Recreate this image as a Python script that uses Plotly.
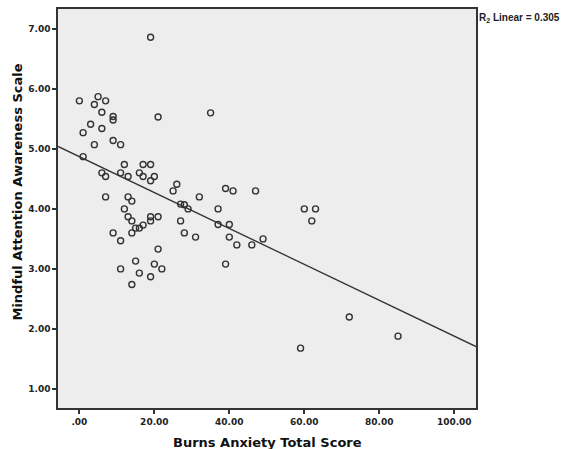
import plotly.graph_objects as go
import numpy as np

# Data
anxiety = [0, 5, 4, 7, 6, 9, 9, 21, 3, 1, 6, 9, 11, 4, 1,
           12, 17, 19, 6, 7, 11, 13, 16, 17, 20, 19,
           7, 13, 14, 12, 13, 14, 19, 19, 21, 17, 16, 15, 14, 9, 11,
           21, 15, 11, 16, 20, 22, 19, 14,
           26, 25, 32, 39, 41, 47, 27, 28, 29, 37, 27, 37, 40, 28, 31, 40,
           42, 46, 49, 39, 19, 35, 60, 63, 62, 72, 85, 59]
mindful = [5.80, 5.87, 5.74, 5.80, 5.61, 5.54, 5.48, 5.53, 5.41, 5.27, 5.34, 5.14, 5.07, 5.07, 4.87,
           4.74, 4.74, 4.74, 4.60, 4.54, 4.60, 4.54, 4.60, 4.54, 4.54, 4.47,
           4.20, 4.20, 4.13, 4.00, 3.87, 3.80, 3.87, 3.80, 3.87, 3.73, 3.68, 3.68, 3.60, 3.60, 3.47,
           3.33, 3.13, 3.00, 2.93, 3.08, 3.00, 2.87, 2.74,
           4.41, 4.30, 4.20, 4.34, 4.30, 4.30, 4.08, 4.07, 4.00, 4.00, 3.80, 3.74, 3.74, 3.60, 3.53, 3.53,
           3.40, 3.40, 3.50, 3.08, 6.86, 5.60, 4.00, 4.00, 3.80, 2.20, 1.88, 1.68]

# Fit line
fit_intercept = 4.87
fit_slope = -0.0299
r2_text = "R<sub>2</sub> Linear = 0.305"
x_title = "Burns Anxiety Total Score"
y_title = "Mindful Attention Awareness Scale"

x_ticks = [0, 20, 40, 60, 80, 100]
x_tick_labels = [".00", "20.00", "40.00", "60.00", "80.00", "100.00"]
y_ticks = [1, 2, 3, 4, 5, 6, 7]
y_tick_labels = ["1.00", "2.00", "3.00", "4.00", "5.00", "6.00", "7.00"]

x_range = [-5.7, 105.8]
y_range = [0.683, 7.33]

fit_x = np.array(x_range)
fit_y = fit_intercept + fit_slope * fit_x

dark = "#333333"
fig = go.Figure()
fig.add_trace(go.Scatter(
    x=fit_x, y=fit_y, mode="lines",
    line=dict(color=dark, width=1.3), hoverinfo="skip", showlegend=False))
fig.add_trace(go.Scatter(
    x=anxiety, y=mindful, mode="markers",
    marker=dict(symbol="circle-open", size=6, color=dark, line=dict(width=1.4)),
    showlegend=False))

tickfont = dict(family="DejaVu Sans", size=9, color="#222222", weight="bold")
titlefont = dict(family="DejaVu Sans", size=13, color="#111111", weight="bold")

axis_common = dict(showgrid=False, zeroline=False, showline=True, linecolor=dark,
                   linewidth=1.5, mirror=True, ticks="outside", ticklen=4,
                   tickcolor=dark, tickwidth=1.5, tickfont=tickfont, automargin=False)

fig.update_layout(
    width=563, height=449,
    margin=dict(l=58, r=87, t=9, b=41, autoexpand=False),
    paper_bgcolor="white",
    plot_bgcolor="#ededed",
    xaxis=dict(range=x_range, tickvals=x_ticks, ticktext=x_tick_labels, **axis_common),
    yaxis=dict(range=y_range, tickvals=y_ticks, ticktext=y_tick_labels, **axis_common),
    annotations=[
        dict(text=r2_text, xref="paper", yref="paper", x=1.0, y=1.0,
             xanchor="left", yanchor="top", xshift=1, yshift=-1, showarrow=False,
             font=dict(family="Liberation Sans", size=10, color="#222222", weight="bold")),
        dict(text=x_title, xref="paper", yref="paper", x=0.5, y=0,
             xanchor="center", yanchor="middle", yshift=-34, showarrow=False,
             font=titlefont),
        dict(text=y_title, xref="paper", yref="paper", x=0, y=0.54,
             xanchor="center", yanchor="middle", xshift=-40, textangle=-90,
             showarrow=False, font=titlefont),
    ],
)

fig.write_html("out.html", config={"displayModeBar": False},
               post_script="document.body.style.margin='0';")
